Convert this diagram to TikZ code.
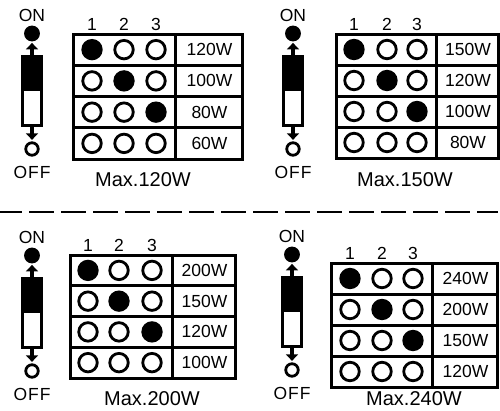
\documentclass[tikz,border=0pt]{standalone}
\usepackage{fontspec}
\setmainfont{Liberation Sans}
\usetikzlibrary{arrows.meta}
\tikzset{
  frame/.style={draw=black, line width=3pt},
  dot/.style={circle, draw=black, line width=2.8pt, minimum size=18.5pt, inner sep=0pt},
  sdot/.style={circle, draw=black, line width=2.8pt, inner sep=0pt},
  swbox/.style={draw=black, line width=3pt, minimum width=19pt, minimum height=69pt, inner sep=0pt, fill=white},
  arr/.style={line width=4pt, -{Triangle[length=6.5pt,width=12pt]}, shorten >=1.5pt},
  numlab/.style={font=\fontsize{17.5}{17.5}\selectfont, inner sep=0pt},
  watt/.style={font=\fontsize{17.5}{17.5}\selectfont, inner sep=0pt},
  maxlab/.style={font=\fontsize{20}{20}\selectfont, inner sep=0pt},
  swlab/.style={font=\fontsize{17.5}{17.5}\selectfont, inner sep=0pt},
  sep/.style={line width=2.8pt, dash pattern=on 25pt off 7pt, dash phase=3pt}
}
% #1 name, #2-#5 watts, #6 max label, #7 max x, #8 max y
\newcommand\dippanel[8]{%
  \pgfmathsetmacro\ph{(\pB-\pT)/4}
  \draw[frame] (\pL,\pT) rectangle (\pR,\pB);
  \draw[frame] (\pD,\pT) -- (\pD,\pB);
  \foreach \i in {1,2,3} \draw[frame] (\pL,{\pT+\i*\ph}) -- (\pR,{\pT+\i*\ph});
  \foreach \j/\cx in {1/\ca,2/\cb,3/\cc} {
    \node[numlab] (#1-n\j) at (\cx,\pT-9.5) {\j};
    \foreach \i in {1,2,3,4} {
      \ifnum\i=\j \def\fc{black}\else\def\fc{white}\fi
      \node[dot, fill=\fc] (#1-r\i-c\j) at (\cx,{\pT+\i*\ph-\ph/2}) {};
    }
  }
  \node[watt] (#1-w1) at ({(\pD+\pR)/2+1},{\pT+0.5*\ph}) {#2};
  \node[watt] (#1-w2) at ({(\pD+\pR)/2+1},{\pT+1.5*\ph}) {#3};
  \node[watt] (#1-w3) at ({(\pD+\pR)/2+1},{\pT+2.5*\ph}) {#4};
  \node[watt] (#1-w4) at ({(\pD+\pR)/2+1},{\pT+3.5*\ph}) {#5};
  \node[maxlab] (#1-max) at (#7,#8) {#6};
  % switch
  \node[swbox] (#1-sw) at (\pS,\pO+91) {};
  \fill[black] (#1-sw.north west) rectangle (#1-sw.east);
  \node[sdot, fill=black, minimum size=13pt] (#1-onc) at (\pS,\pO+33.5) {};
  \node[sdot, fill=white, minimum size=12.5pt] (#1-offc) at (\pS,\pO+149) {};
  \node[swlab] (#1-on) at (\pS,\pO+15) {ON};
  \node[swlab] (#1-off) at (\pS,\pO+172.5) {O\kern1ptF\kern1ptF};
  \draw[arr] (#1-sw.north) -- (#1-onc.south);
  \draw[arr] (#1-sw.south) -- (#1-offc.north);
}
\begin{document}
\begin{tikzpicture}[x=1pt,y=-1pt]
\useasboundingbox (0,0) rectangle (500,410);
\coordinate (sepL) at (0,212);
\coordinate (sepR) at (498,212);
\draw[sep] (sepL) -- (sepR);
\def\pL{73}\def\pT{34}\def\pD{175}\def\pR{242}\def\pB{159}\def\pS{32}\def\pO{0}
\def\ca{92}\def\cb{124}\def\cc{156}
\dippanel{pa}{120W}{100W}{80W}{60W}{Max.120W}{143}{180}
\def\pL{336}\def\pT{34}\def\pD{436}\def\pR{498}\def\pB{158}\def\pS{293}\def\pO{0}
\def\ca{354}\def\cb{387}\def\cc{417}
\dippanel{pb}{150W}{120W}{100W}{80W}{Max.150W}{405}{180}
\def\pL{70}\def\pT{255}\def\pD{172}\def\pR{235}\def\pB{378}\def\pS{32}\def\pO{222}
\def\ca{88}\def\cb{119}\def\cc{152}
\dippanel{pc}{200W}{150W}{120W}{100W}{Max.200W}{152}{399}
\def\pL{331}\def\pT{263}\def\pD{432}\def\pR{497}\def\pB{387}\def\pS{292}\def\pO{221}
\def\ca{350}\def\cb{382}\def\cc{413}
\dippanel{pd}{240W}{200W}{150W}{120W}{Max.240W}{414}{399}
\end{tikzpicture}
\end{document}
